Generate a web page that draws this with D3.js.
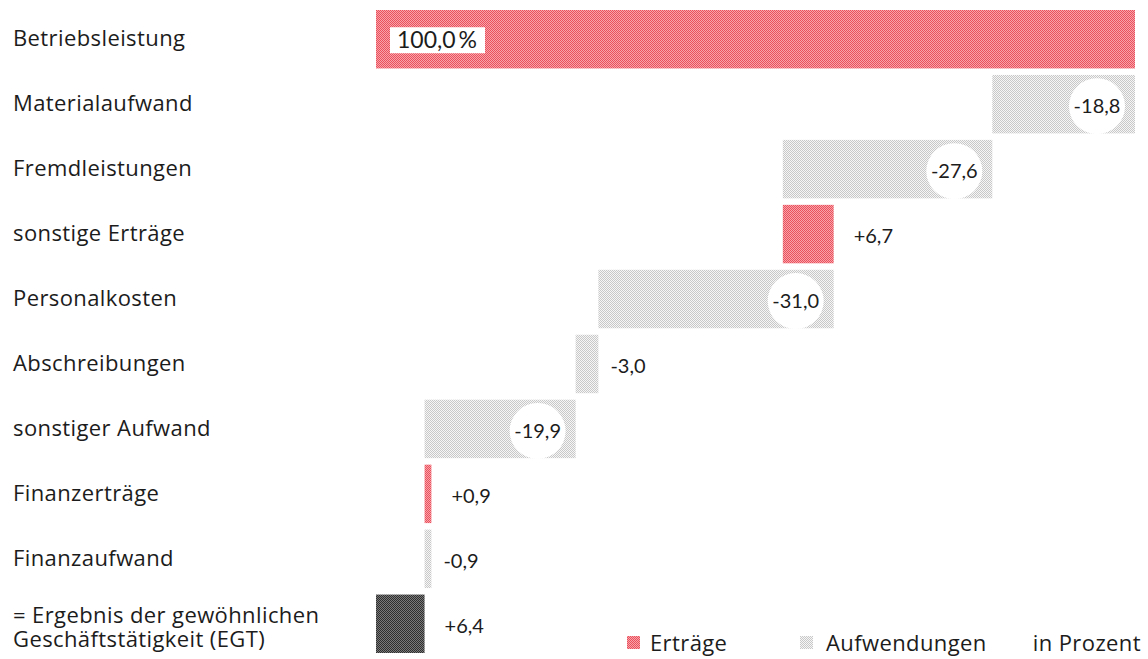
<!DOCTYPE html>
<html>
<head>
<meta charset="utf-8">
<script src="https://cdn.jsdelivr.net/npm/d3@7"></script>
<style>
  body { margin: 0; background: #fff; }
  text { font-family: "Open Sans", Lato, sans-serif; fill: #1c1c1c; }
  text.lbl { letter-spacing: 0.4px; }
  text.num { font-family: Lato, "Open Sans", sans-serif; }
</style>
</head>
<body>
<svg width="1148" height="659"></svg>
<script>
const categories = [
  "Betriebsleistung", "Materialaufwand", "Fremdleistungen", "sonstige Erträge",
  "Personalkosten", "Abschreibungen", "sonstiger Aufwand", "Finanzerträge",
  "Finanzaufwand", "= Ergebnis der gewöhnlichen|Geschäftstätigkeit (EGT)"
];
const values = [100.0, -18.8, -27.6, 6.7, -31.0, -3.0, -19.9, 0.9, -0.9, 6.4];
const kinds = ["ertrag", "aufwand", "aufwand", "ertrag", "aufwand", "aufwand", "aufwand", "ertrag", "aufwand", "ergebnis"];
const legendItems = ["Erträge", "Aufwendungen"];
const unitLabel = "in Prozent";

const svg = d3.select("svg"),
  width = +svg.attr("width"),
  height = +svg.attr("height");

// patterns
const defs = svg.append("defs");
function checker(id, a, b) {
  const p = defs.append("pattern").attr("id", id)
    .attr("width", 2).attr("height", 2).attr("patternUnits", "userSpaceOnUse");
  p.append("rect").attr("width", 2).attr("height", 2).attr("fill", b);
  p.append("rect").attr("width", 1).attr("height", 1).attr("fill", a);
  p.append("rect").attr("x", 1).attr("y", 1).attr("width", 1).attr("height", 1).attr("fill", a);
}
checker("pat-ertrag", "#e9505c", "#f8a3a9");
checker("pat-aufwand", "#c8c8c8", "#f6f6f6");
checker("pat-ergebnis", "#2e2e2e", "#7a7a7a");
const fill = k => `url(#pat-${k})`;

// waterfall start/end
let run = 0;
const data = values.map((v, i) => {
  let d;
  if (kinds[i] === "ergebnis") d = { start: 0, end: v };
  else { d = { start: run, end: run + v }; run += v; }
  return { cat: categories[i], value: v, kind: kinds[i], i, ...d };
});

const x = d3.scaleLinear().domain([0, 100]).range([376, 1135]);
const y = d3.scaleBand().domain(categories).range([10, 653]).paddingInner(0.1).paddingOuter(0);

const fmt = v => d3.format(".1f")(Math.abs(v)).replace(".", ",");

// category labels (multi-line ones get a text element per line)
const lblG = svg.append("g");
data.forEach(d => {
  const parts = d.cat.split("|");
  const cy = y(d.cat) + y.bandwidth() / 2 - 1;
  parts.forEach((p, j) => {
    lblG.append("text").attr("class", "lbl")
      .attr("x", 13)
      .attr("y", parts.length > 1 ? cy - 7 + j * 24 : cy)
      .attr("dy", "0.35em")
      .attr("font-size", 22)
      .text(p);
  });
});

// bars
svg.append("g").selectAll("rect")
  .data(data).enter().append("rect")
  .attr("x", d => x(Math.min(d.start, d.end)))
  .attr("y", d => y(d.cat))
  .attr("width", d => Math.max(x(Math.max(d.start, d.end)) - x(Math.min(d.start, d.end)), 1))
  .attr("height", y.bandwidth())
  .attr("fill", d => fill(d.kind));

// value labels
const vl = svg.append("g");
data.forEach(d => {
  const cy = y(d.cat) + y.bandwidth() / 2;
  const right = x(Math.max(d.start, d.end));
  const w = right - x(Math.min(d.start, d.end));
  if (d.i === 0) {
    vl.append("rect").attr("x", x(0) + 14).attr("y", cy - 12).attr("width", 95).attr("height", 26).attr("fill", "#fff");
    vl.append("text").attr("class", "num").attr("x", x(0) + 21).attr("y", cy + 1).attr("dy", "0.35em")
      .attr("font-size", 23).text(fmt(d.value) + "\u2009%");
  } else if (w > 80) {
    const cx = right - 38;
    vl.append("circle").attr("cx", cx).attr("cy", cy + 2).attr("r", 28).attr("fill", "#fff");
    vl.append("text").attr("class", "num").attr("x", cx).attr("y", cy + 2).attr("dy", "0.35em")
      .attr("text-anchor", "middle").attr("font-size", 20)
      .text((d.value < 0 ? "-" : "+") + fmt(d.value));
  } else {
    vl.append("text").attr("class", "num").attr("x", right + (d.value < 0 ? 12 : 20)).attr("y", cy + 2).attr("dy", "0.35em")
      .attr("font-size", 20)
      .text((d.value < 0 ? "-" : "+") + fmt(d.value));
  }
});

// legend
const lg = svg.append("g");
const ly = 643;
lg.append("rect").attr("x", 627).attr("y", ly - 7).attr("width", 13).attr("height", 13).attr("fill", fill("ertrag"));
lg.append("text").attr("class", "lbl").attr("x", 650).attr("y", ly).attr("dy", "0.35em").attr("font-size", 22).text(legendItems[0]);
lg.append("rect").attr("x", 800).attr("y", ly - 7).attr("width", 13).attr("height", 13).attr("fill", fill("aufwand"));
lg.append("text").attr("class", "lbl").attr("x", 826).attr("y", ly).attr("dy", "0.35em").attr("font-size", 22).text(legendItems[1]);
lg.append("text").attr("class", "lbl").attr("x", 1141).attr("y", ly).attr("dy", "0.35em").attr("text-anchor", "end").attr("font-size", 22).text(unitLabel);
</script>
</body>
</html>
